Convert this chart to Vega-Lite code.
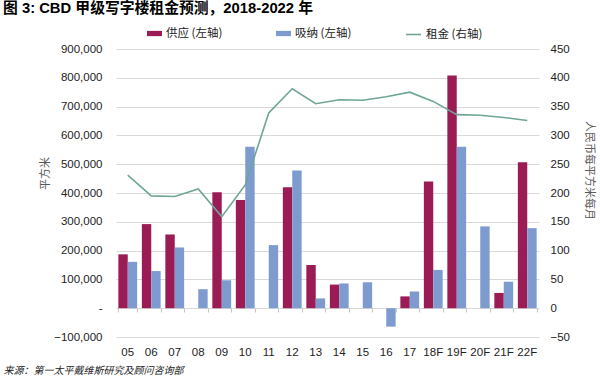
{
  "$schema": "https://vega.github.io/schema/vega-lite/v6.json",
  "width": 423,
  "height": 288,
  "autosize": {"type": "none"},
  "padding": {"left": 116, "top": 49, "right": 61, "bottom": 44},
  "background": "white",
  "config": {"font": "Liberation Sans, Noto Sans CJK SC", "view": {"stroke": null, "strokeWidth": 0}, "axis": {"domain": false}},
  "title": {"text": "图 3: CBD 甲级写字楼租金预测，2018-2022 年", "anchor": "start", "frame": "group", "dx": -113, "offset": 10, "fontSize": 14.8, "fontWeight": "bold", "font": "Liberation Sans, Noto Sans CJK SC", "color": "#000000"},
  "datasets": {
    "bars": [
      {"year": "05", "series": "供应 (左轴)", "value": 187000},
      {"year": "05", "series": "吸纳 (左轴)", "value": 161000},
      {"year": "06", "series": "供应 (左轴)", "value": 292000},
      {"year": "06", "series": "吸纳 (左轴)", "value": 129000},
      {"year": "07", "series": "供应 (左轴)", "value": 256000},
      {"year": "07", "series": "吸纳 (左轴)", "value": 211000},
      {"year": "08", "series": "吸纳 (左轴)", "value": 66000},
      {"year": "09", "series": "供应 (左轴)", "value": 403000},
      {"year": "09", "series": "吸纳 (左轴)", "value": 97000},
      {"year": "10", "series": "供应 (左轴)", "value": 376000},
      {"year": "10", "series": "吸纳 (左轴)", "value": 561000},
      {"year": "11", "series": "吸纳 (左轴)", "value": 219000},
      {"year": "12", "series": "供应 (左轴)", "value": 420000},
      {"year": "12", "series": "吸纳 (左轴)", "value": 478000},
      {"year": "13", "series": "供应 (左轴)", "value": 150000},
      {"year": "13", "series": "吸纳 (左轴)", "value": 34000},
      {"year": "14", "series": "供应 (左轴)", "value": 82000},
      {"year": "14", "series": "吸纳 (左轴)", "value": 86000},
      {"year": "15", "series": "吸纳 (左轴)", "value": 90000},
      {"year": "16", "series": "吸纳 (左轴)", "value": -64000},
      {"year": "17", "series": "供应 (左轴)", "value": 41000},
      {"year": "17", "series": "吸纳 (左轴)", "value": 58000},
      {"year": "18F", "series": "供应 (左轴)", "value": 440000},
      {"year": "18F", "series": "吸纳 (左轴)", "value": 133000},
      {"year": "19F", "series": "供应 (左轴)", "value": 808000},
      {"year": "19F", "series": "吸纳 (左轴)", "value": 561000},
      {"year": "20F", "series": "吸纳 (左轴)", "value": 284000},
      {"year": "21F", "series": "供应 (左轴)", "value": 53000},
      {"year": "21F", "series": "吸纳 (左轴)", "value": 92000},
      {"year": "22F", "series": "供应 (左轴)", "value": 507000},
      {"year": "22F", "series": "吸纳 (左轴)", "value": 278000}
    ],
    "rent": [
      {"year": "05", "rent": 231}, {"year": "06", "rent": 195}, {"year": "07", "rent": 194},
      {"year": "08", "rent": 207}, {"year": "09", "rent": 159}, {"year": "10", "rent": 214},
      {"year": "11", "rent": 339}, {"year": "12", "rent": 381}, {"year": "13", "rent": 355},
      {"year": "14", "rent": 362}, {"year": "15", "rent": 361}, {"year": "16", "rent": 367},
      {"year": "17", "rent": 375}, {"year": "18F", "rent": 359}, {"year": "19F", "rent": 336},
      {"year": "20F", "rent": 335}, {"year": "21F", "rent": 331}, {"year": "22F", "rent": 326}
    ]
  },
  "layer": [
    {
      "data": {"name": "bars"},
      "mark": {"type": "bar"},
      "encoding": {
        "x": {
          "field": "year", "type": "nominal", "sort": null,
          "scale": {"domain": ["05","06","07","08","09","10","11","12","13","14","15","16","17","18F","19F","20F","21F","22F"], "paddingInner": 0.2, "paddingOuter": 0.1},
          "axis": {"orient": "bottom", "domain": false, "ticks": false, "grid": false, "labelAngle": 0, "labelPadding": 9, "labelFontSize": 11.5, "labelColor": "#222222",
                   "title": "来源：第一太平戴维斯研究及顾问咨询部", "titleFont": "Noto Sans CJK SC", "titleFontStyle": "italic", "titleFontWeight": "normal", "titleFontSize": 10, "titleColor": "#222222",
                   "titleX": -113, "titleY": 33, "titleAlign": "left", "titleAnchor": "start", "titleBaseline": "middle"}
        },
        "xOffset": {"field": "series", "type": "nominal", "scale": {"domain": ["供应 (左轴)", "吸纳 (左轴)"], "paddingInner": 0, "paddingOuter": 0}},
        "y": {
          "field": "value", "type": "quantitative",
          "scale": {"domain": [-100000, 900000], "nice": false, "zero": true},
          "axis": {"orient": "left", "values": [-100000,0,100000,200000,300000,400000,500000,600000,700000,800000,900000],
                   "domain": false, "ticks": false, "labelPadding": 14, "labelFontSize": 11.5, "labelColor": "#222222",
                   "labelExpr": "datum.value == 0 ? '-' : format(datum.value, ',')",
                   "grid": true, "gridColor": "#d9d9d9", "gridWidth": 1,
                   "title": "平方米", "titleFont": "Noto Sans CJK SC", "titleFontWeight": "normal", "titleFontSize": 11, "titleColor": "#595959",
                   "titleX": -71, "titleY": 124, "titleBaseline": "middle", "titleAngle": -90}
        },
        "color": {
          "field": "series", "type": "nominal",
          "scale": {"domain": ["供应 (左轴)", "吸纳 (左轴)"], "range": ["#9B1B55", "#7E9BD0"]},
          "legend": {"orient": "none", "legendX": 31, "legendY": -23, "direction": "horizontal", "title": null, "padding": 0,
                     "symbolType": "M-1,-0.35H1V0.35H-1Z", "symbolSize": 225, "symbolStrokeWidth": 0, "columnPadding": 53,
                     "labelFontSize": 11.5, "labelColor": "#222222", "labelFont": "Noto Sans CJK SC, Liberation Sans"}
        }
      }
    },
    {
      "data": {"name": "rent"},
      "mark": {"type": "line", "strokeWidth": 1.6},
      "encoding": {
        "x": {
          "field": "year", "type": "nominal", "sort": null,
          "axis": {"orient": "bottom", "offset": -29, "labels": false, "domain": false, "ticks": true, "tickBand": "extent", "tickSize": 4, "tickColor": "#c4c4c4", "title": null, "grid": false}
        },
        "y": {
          "field": "rent", "type": "quantitative",
          "scale": {"domain": [-50, 450], "nice": false},
          "axis": {"orient": "right", "values": [-50,0,50,100,150,200,250,300,350,400,450], "domain": false, "ticks": false, "grid": false,
                   "labelPadding": 11, "labelFontSize": 11.5, "labelColor": "#222222",
                   "title": "人民币每平方米每月", "titleFont": "Noto Sans CJK SC", "titleFontWeight": "normal", "titleFontSize": 11, "titleColor": "#595959",
                   "titleX": 49, "titleY": 121, "titleBaseline": "middle", "titleAngle": 90}
        },
        "stroke": {
          "datum": "租金 (右轴)",
          "scale": {"range": ["#6FA597"]},
          "legend": {"orient": "none", "legendX": 289, "legendY": -23, "direction": "horizontal", "title": null, "padding": 0,
                     "symbolType": "stroke", "symbolSize": 225, "symbolStrokeWidth": 1.6,
                     "labelFontSize": 11.5, "labelColor": "#222222", "labelFont": "Noto Sans CJK SC, Liberation Sans"}
        }
      }
    }
  ],
  "resolve": {"scale": {"y": "independent"}, "axis": {"x": "independent"}}
}
